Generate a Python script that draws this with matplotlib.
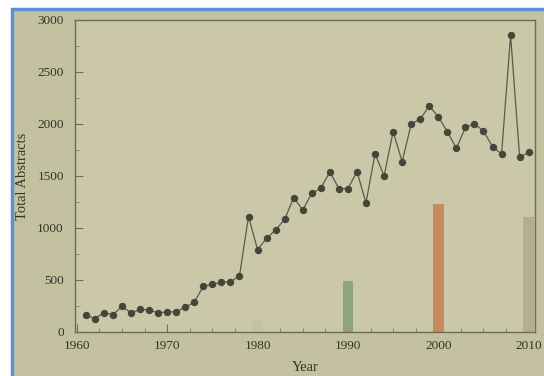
import matplotlib
matplotlib.use("Agg")
import matplotlib.pyplot as plt
from matplotlib.patches import Rectangle
from matplotlib.ticker import MultipleLocator

# Annual abstract counts
years = list(range(1961, 2011))
abstracts = [163, 128, 186, 166, 247, 183, 218, 211, 186, 192,
             195, 240, 285, 442, 458, 478, 484, 538, 1110, 793,
             901, 981, 1083, 1292, 1173, 1333, 1381, 1541, 1378, 1378,
             1541, 1244, 1715, 1500, 1926, 1638, 2000, 2048, 2173, 2070,
             1926, 1766, 1968, 2000, 1933, 1782, 1712, 2853, 1680, 1728]

# Decade highlight bars
bar_years = [1980, 1990, 2000, 2010]
bar_values = [118, 487, 1231, 1103]
bar_colors = ["#c4c1a4", "#8fa478", "#c98a5e", "#b3ae90"]

x_ticks = [1960, 1970, 1980, 1990, 2000, 2010]
y_ticks = [0, 500, 1000, 1500, 2000, 2500, 3000]

W, H = 544, 376
fig = plt.figure(figsize=(W / 100, H / 100), dpi=100, facecolor="white")

# Framed panel behind the chart
fig.patches.append(Rectangle((12 / W, -0.05), 1.1, 1 - 9 / H + 0.05,
                             transform=fig.transFigure, facecolor="#c3c1a0",
                             edgecolor="#5b8fd6", linewidth=2.5, zorder=-10))

ax = fig.add_axes([75 / W, 1 - 332 / H, (535 - 75) / W, (332 - 20) / H])
ax.set_zorder(5)
ax.set_facecolor("#cac8a8")

serif = ["Liberation Serif", "DejaVu Serif"]
ink = "#45463a"
text_col = "#33342a"

ax.bar(bar_years, bar_values, width=1.2, color=bar_colors, zorder=2)
ax.plot(years, abstracts, color="#5a5b48", linewidth=0.9, marker="o",
        markersize=4.3, markerfacecolor=ink, markeredgecolor=ink, zorder=3)

ax.set_xlim(1959.8, 2010.7)
ax.set_ylim(0, 3000)
ax.set_xticks(x_ticks)
ax.set_yticks(y_ticks)
ax.xaxis.set_minor_locator(MultipleLocator(2.5))
ax.yaxis.set_minor_locator(MultipleLocator(250))
ax.tick_params(which="major", direction="in", length=6, width=0.8,
               color="#6d6c55", labelcolor=text_col, labelsize=9.5)
ax.tick_params(axis="x", which="major", pad=6)
ax.tick_params(axis="y", which="major", pad=8)
ax.tick_params(which="minor", direction="in", length=3, width=0.6,
               color="#7d7c65")
for lab in ax.get_xticklabels() + ax.get_yticklabels():
    lab.set_family(serif)

for side in ax.spines.values():
    side.set_color("#6d6c55")
    side.set_linewidth(1.0)

ax.set_xlabel("Year", family=serif, fontsize=10.5, color=text_col, labelpad=6)
ax.set_ylabel("Total Abstracts", family=serif, fontsize=10.5, color=text_col,
              labelpad=6)

fig.savefig("out.png", dpi=100, facecolor=fig.get_facecolor())
